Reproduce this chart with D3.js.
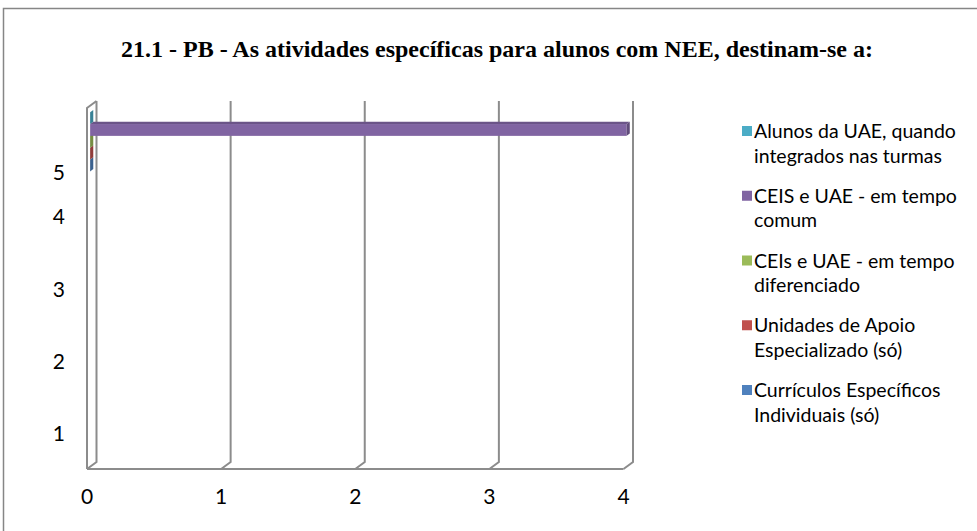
<!DOCTYPE html>
<html><head><meta charset="utf-8">
<script src="https://cdn.jsdelivr.net/npm/d3@7"></script>
<style>html,body{margin:0;padding:0;background:#fff;}svg{display:block;}</style>
</head><body>
<svg id="chart" width="977" height="531"></svg>
<script>
// ---- data ----
const titleText = "21.1 - PB - As atividades específicas para alunos com NEE, destinam-se a:";
const categories = ["1", "2", "3", "4", "5"];
const seriesNames = [
  "Alunos da UAE, quando integrados nas turmas",
  "CEIS e UAE - em tempo comum",
  "CEIs e UAE - em tempo diferenciado",
  "Unidades de Apoio Especializado (só)",
  "Currículos Específicos Individuais (só)"
];
const legendLines = [
  ["Alunos da UAE, quando", "integrados nas turmas"],
  ["CEIS e UAE - em tempo", "comum"],
  ["CEIs e UAE - em tempo", "diferenciado"],
  ["Unidades de Apoio", "Especializado (só)"],
  ["Currículos Específicos", "Individuais (só)"]
];
const seriesColors = ["#4BACC6", "#8064A2", "#9BBB59", "#C0504D", "#4F81BD"];
// values per series, per category 1..5 (null = no bar)
const valAlunos     = [null, null, null, null, 0];
const valCeisComum  = [null, null, null, null, 4];
const valCeisDif    = [null, null, null, null, 0];
const valUnidades   = [null, null, null, null, 0];
const valCurriculos = [null, null, null, null, 0];
const seriesValues = [valAlunos, valCeisComum, valCeisDif, valUnidades, valCurriculos];
const xTicks = [0, 1, 2, 3, 4];

// ---- layout ----
const svg = d3.select("#chart");
const gridColor = "#8c8c8c";
const depthX = 9.5, depthY = -7;          // full depth offset (front -> back wall)
const barFront = 0.33, barBack = 0.66;    // bar depth fraction
const labelShift = {"5": 28};

const x = d3.scaleLinear().domain([0, 4]).range([87, 623.5]);
const y = d3.scaleBand().domain(categories.slice().reverse()).range([108, 469]);
const inner = d3.scaleBand().domain(seriesNames).range([6.5, y.bandwidth() - 6.5]);

// outer border
svg.append("rect").attr("x", 3.5).attr("y", 8.5).attr("width", 990).attr("height", 540)
  .attr("fill", "none").attr("stroke", "#868686").attr("stroke-width", 1.5);

// title
svg.append("text").attr("x", 497).attr("y", 57).attr("text-anchor", "middle")
  .attr("font-family", "Liberation Serif, Times New Roman, serif").attr("font-weight", "bold")
  .attr("font-size", 24).attr("fill", "#000").text(titleText);

// walls / gridlines
const g = svg.append("g").attr("fill", "none").attr("stroke", gridColor).attr("stroke-width", 2);
const y0 = y.range()[0], y1 = y.range()[1];
g.append("path").attr("d", `M${x(0)},${y1} L${x(0)},${y0} L${x(0)+depthX},${y0+depthY}`);
g.append("path").attr("d", `M${x(0)},${y1} L${x(4)},${y1}`);
xTicks.forEach(t => {
  g.append("path").attr("d",
    `M${x(t)+depthX},${y0+depthY} L${x(t)+depthX},${y1+depthY} L${x(t)},${y1}`);
});

// bars
const fdx = depthX*barFront, fdy = depthY*barFront;
const ddx = depthX*(barBack-barFront), ddy = depthY*(barBack-barFront);
const bars = svg.append("g");
for (let s = seriesNames.length - 1; s >= 0; s--) {
  categories.forEach((c, ci) => {
    const v = seriesValues[s][ci];
    if (v === null) return;
    const col = d3.color(seriesColors[s]);
    const xa = x(0) + fdx, xb = x(v) + fdx;
    const ya = y(c) + inner(seriesNames[s]) + fdy, yb = ya + inner.bandwidth();
    if (xb > xa) {
      bars.append("rect").attr("x", xa).attr("y", ya).attr("width", xb - xa).attr("height", yb - ya)
        .attr("fill", col.formatHex());
      bars.append("path").attr("d", `M${xa},${ya} L${xb},${ya} L${xb+ddx},${ya+ddy} L${xa+ddx},${ya+ddy}Z`)
        .attr("fill", col.darker(0.5).formatHex());
    }
    bars.append("path").attr("d", `M${xb},${ya} L${xb+ddx},${ya+ddy} L${xb+ddx},${yb+ddy} L${xb},${yb}Z`)
      .attr("fill", col.darker(0.8).formatHex());
  });
}

// x tick labels
const font = "Lato, Open Sans, sans-serif";
svg.append("g").selectAll("text").data(xTicks).join("text")
  .attr("x", d => x(d)).attr("y", 504).attr("text-anchor", "middle")
  .attr("font-family", font).attr("font-size", 21).attr("fill", "#000").text(d => d);

// y category labels
svg.append("g").selectAll("text").data(categories).join("text")
  .attr("x", 65).attr("y", d => y(d) + y.bandwidth()/2 + (labelShift[d] || 0) + 8)
  .attr("text-anchor", "end")
  .attr("font-family", font).attr("font-size", 21).attr("fill", "#000").text(d => d);

// legend
const legY = d3.scalePoint().domain(seriesNames).range([131, 390]);
const leg = svg.append("g").selectAll("g").data(seriesNames).join("g")
  .attr("transform", d => `translate(742,${legY(d)})`);
leg.append("rect").attr("x", 0).attr("y", -5).attr("width", 10).attr("height", 10)
  .attr("fill", (d, i) => seriesColors[i]);
leg.append("text").attr("x", 12).attr("y", 7)
  .attr("font-family", font).attr("font-size", 19.5).attr("fill", "#000")
  .each(function(d, i) {
    d3.select(this).selectAll("tspan").data(legendLines[i]).join("tspan")
      .attr("x", 12).attr("dy", (l, j) => j === 0 ? 0 : 24.5).text(l => l);
  });
</script>
</body></html>
